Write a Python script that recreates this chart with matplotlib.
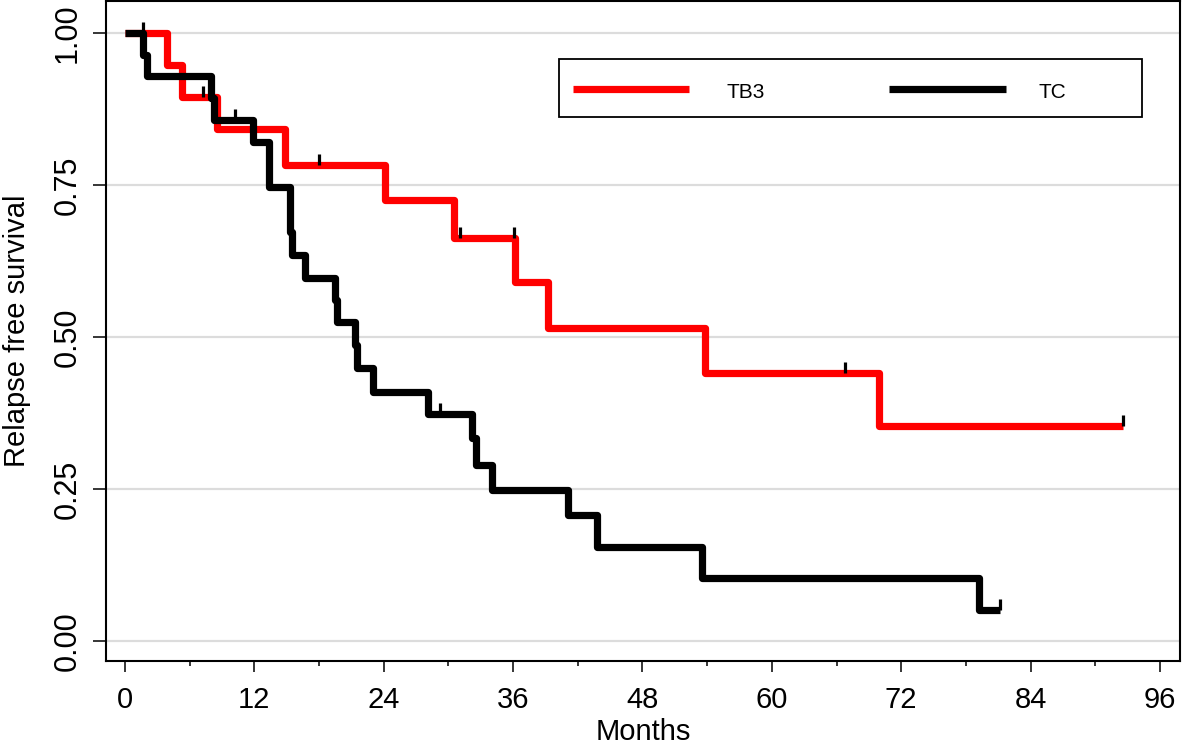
import matplotlib
matplotlib.use("Agg")
import matplotlib.pyplot as plt
from matplotlib.path import Path
from matplotlib.lines import Line2D
from matplotlib.patches import Rectangle

# Kaplan-Meier steps (months, survival)
tb3_time = [0, 3.87, 5.26, 8.5, 14.8, 24.1, 30.5, 36.2, 39.2, 53.8, 69.9, 92.6]
tb3_surv = [1.0, 0.947, 0.895, 0.842, 0.783, 0.725, 0.663, 0.591, 0.515, 0.441, 0.354, 0.354]
tb3_cens_time = [7.2, 18.0, 31.1, 36.1, 66.8, 92.6]
tb3_cens_surv = [0.895, 0.783, 0.663, 0.663, 0.441, 0.354]

tc_time = [0, 1.7, 2.0, 8.0, 8.3, 11.9, 13.4, 15.3, 15.5, 16.7, 19.5, 19.7,
           21.3, 21.5, 23.0, 28.1, 32.2, 32.6, 34.0, 41.1, 43.75, 53.5, 79.2, 81.2]
tc_surv = [1.0, 0.964, 0.929, 0.893, 0.857, 0.821, 0.747, 0.672, 0.635, 0.597, 0.56, 0.524,
           0.487, 0.449, 0.41, 0.373, 0.333, 0.29, 0.248, 0.207, 0.155, 0.104, 0.051, 0.051]
tc_cens_time = [1.7, 10.2, 29.2, 81.2]
tc_cens_surv = [1.0, 0.857, 0.373, 0.051]

group_labels = ["TB3", "TC"]
group_colors = ["#ff0000", "#000000"]

x_ticks = [0, 12, 24, 36, 48, 60, 72, 84, 96]
y_ticks = [0.0, 0.25, 0.5, 0.75, 1.0]
y_tick_labels = ["0.00", "0.25", "0.50", "0.75", "1.00"]

plt.rcParams["font.family"] = ["Liberation Sans", "DejaVu Sans"]

fig = plt.figure(figsize=(11.82, 7.45), dpi=100)
ax = fig.add_axes([0.0897, 0.1128, 0.9086, 0.8859])

# horizontal grid
for yv in y_ticks:
    ax.axhline(yv, color="#dcdcdc", linewidth=1.6, zorder=0)

step_kw = dict(where="post", linewidth=5.2, solid_joinstyle="round", solid_capstyle="butt")
ax.step(tb3_time, tb3_surv, color=group_colors[0], zorder=2, **step_kw)
ax.step(tc_time, tc_surv, color=group_colors[1], zorder=3, **step_kw)

# censor marks: short vertical strokes rising from the curve
cens_marker = Path([[0, 0], [0, 1]])
ax.plot(tb3_cens_time, tb3_cens_surv, linestyle="none", marker=cens_marker,
        markersize=16, markeredgewidth=2.3, color="black", zorder=4)
ax.plot(tc_cens_time, tc_cens_surv, linestyle="none", marker=cens_marker,
        markersize=16, markeredgewidth=2.3, color="black", zorder=4)

ax.set_xlim(-1.76, 97.86)
ax.set_ylim(-0.033, 1.0526)
ax.set_xticks(x_ticks)
ax.set_xticks([t + 6 for t in x_ticks[:-1]], minor=True)
ax.set_yticks(y_ticks)
ax.set_yticklabels(y_tick_labels)

ax.tick_params(axis="x", which="major", length=8, width=1.1, pad=10, labelsize=21)
ax.tick_params(axis="x", which="minor", length=3.7, width=1.1)
ax.tick_params(axis="y", which="major", length=9.5, width=1.1, pad=7, labelsize=22)
for lab in ax.get_yticklabels():
    lab.set_rotation(90)
    lab.set_va("center")

ax.set_xlabel("Months", fontsize=21, labelpad=3)
ax.set_ylabel("Relapse free survival", fontsize=21)
ax.yaxis.set_label_coords(-0.0695, 0.5)

for sp in ax.spines.values():
    sp.set_linewidth(1.5)
    sp.set_color("black")

# legend box drawn by hand to match the boxed two-column key
ax.add_patch(Rectangle((0.4218, 0.824), 0.5428, 0.088, transform=ax.transAxes,
                       facecolor="white", edgecolor="black", linewidth=1.3, zorder=5))
handle_x = [(0.4344, 0.5428), (0.729, 0.838)]
text_x = [0.5777, 0.8678]
for (x0, x1), tx, lbl, col in zip(handle_x, text_x, group_labels, group_colors):
    ax.add_line(Line2D([x0, x1], [0.8667, 0.8667], transform=ax.transAxes,
                       color=col, linewidth=5.2, solid_capstyle="butt", zorder=6))
    ax.text(tx, 0.862, lbl, transform=ax.transAxes, fontsize=15,
            ha="left", va="center", zorder=6)

fig.savefig("out.png", dpi=100)
